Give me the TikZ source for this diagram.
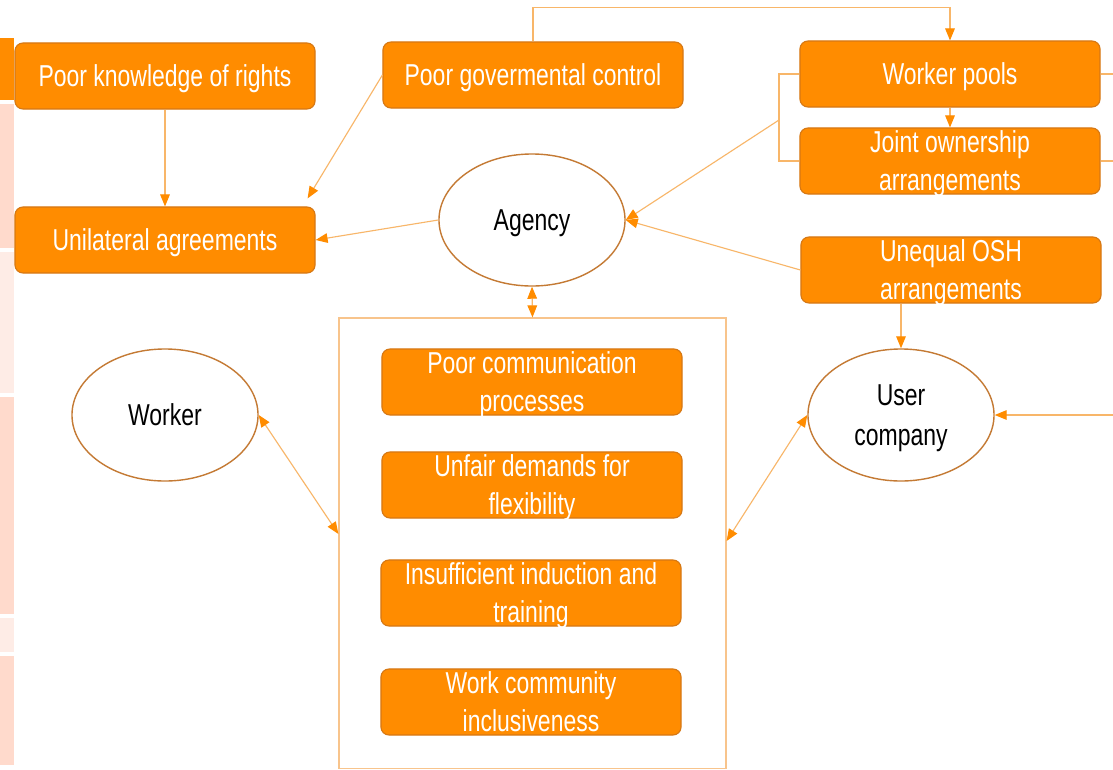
\documentclass[tikz,border=0pt]{standalone}
\usepackage{fontspec}
\newfontfamily\narrowsans[FakeStretch=0.76]{Liberation Sans}
\usetikzlibrary{arrows.meta,shapes.geometric}
\definecolor{boxorange}{RGB}{255,140,0}
\definecolor{boxedge}{RGB}{214,120,20}
\definecolor{ovaledge}{RGB}{196,122,52}
\definecolor{linkorange}{RGB}{248,182,105}
\definecolor{frameorange}{RGB}{248,196,140}
\definecolor{stripdark}{RGB}{255,218,204}
\definecolor{striplight}{RGB}{254,236,230}

\begin{document}
\begin{tikzpicture}[x=0.025cm,y=-0.025cm,
    obox/.style={rectangle,rounded corners=0.2cm,fill=boxorange,draw=boxedge,line width=0.8pt,
      minimum width=7.5cm,minimum height=1.65cm,inner ysep=0pt,text depth=0pt,text=white,align=center,
      font=\narrowsans\fontsize{21.5}{27}\selectfont},
    oval/.style={ellipse,draw=ovaledge,line width=1pt,fill=white,minimum width=4.65cm,
      minimum height=3.3cm,inner sep=0pt,text depth=0pt,align=center,font=\narrowsans\fontsize{21.5}{29}\selectfont},
    link/.style={draw=linkorange,line width=0.8pt},
    arr/.style={-{Triangle[length=0.3cm,width=0.24cm,color=boxorange]}},
    biarr/.style={{Triangle[length=0.3cm,width=0.24cm,color=boxorange]}-{Triangle[length=0.3cm,width=0.24cm,color=boxorange]}}]
  \useasboundingbox (0,0) rectangle (1113,770);
  \fill[white] (0,0) rectangle (1113,770);
  % strip on the left edge
  \fill[boxorange] (0,38) rectangle (14,100);
  \fill[stripdark] (0,104) rectangle (14,248);
  \fill[striplight] (0,252) rectangle (14,393);
  \fill[stripdark] (0,397) rectangle (14,614);
  \fill[striplight] (0,618) rectangle (14,652);
  \fill[stripdark] (0,656) rectangle (14,765);
  % frame round the agency problems
  \node[draw=frameorange,line width=0.8pt,minimum width=9.675cm,minimum height=11.25cm,inner sep=0pt] (frame) at (532.5,543) {};
  \node[obox] (rights) at (165,76) {Poor knowledge of rights};
  \node[obox] (control) at (533,75) {Poor govermental control};
  \node[obox] (pools) at (950,74) {Worker pools};
  \node[obox] (joint) at (950,161) {Joint ownership\\arrangements};
  \node[obox] (unilateral) at (165,240) {Unilateral agreements};
  \node[obox] (osh) at (951,270) {Unequal OSH\\arrangements};
  \node[oval] (agency) at (532,220) {Agency};
  \node[oval] (worker) at (165,415) {Worker};
  \node[oval] (user) at (901,415) {User\\company};
  \node[obox] (comm) at (532,382) {Poor communication\\processes};
  \node[obox] (flex) at (532,485) {Unfair demands for\\flexibility};
  \node[obox] (induction) at (531,593) {Insufficient induction and\\training};
  \node[obox] (inclusive) at (531,702) {Work community\\inclusiveness};
  \coordinate (brk) at (779,120);
  \coordinate (poolsout) at (1113,74);
  \coordinate (jointout) at (1113,161);
  \coordinate (userin) at (1113,415);
  % connectors
  \draw[link,arr] (rights) -- (unilateral);
  \draw[link,arr] (control.west) -- ([xshift=-0.2cm,yshift=0.2cm]unilateral.north east);
  \draw[link,arr] (control.north) -- ++(0,-34) -| (pools.north);
  \draw[link,arr] (pools) -- (joint);
  \draw[link] (pools.west) -| (brk) |- (joint.west);
  \draw[link,arr] (brk) -- (agency.east);
  \draw[link,arr] (osh.west) -- (agency.east);
  \draw[link,arr] (agency.west) -- (unilateral.east);
  \draw[link,biarr] (agency.south) -- (frame.north);
  \draw[link,biarr] (worker.east) -- ([yshift=0.225cm]frame.west);
  \draw[link,biarr] (user.west) -- ([yshift=0.05cm]frame.east);
  \draw[link,arr] (osh.south -| user.north) -- (user.north);
  \draw[link] (pools.east) -- (poolsout);
  \draw[link] (joint.east) -- (jointout);
  \draw[link,arr] (userin) -- (user.east);
\end{tikzpicture}
\end{document}
